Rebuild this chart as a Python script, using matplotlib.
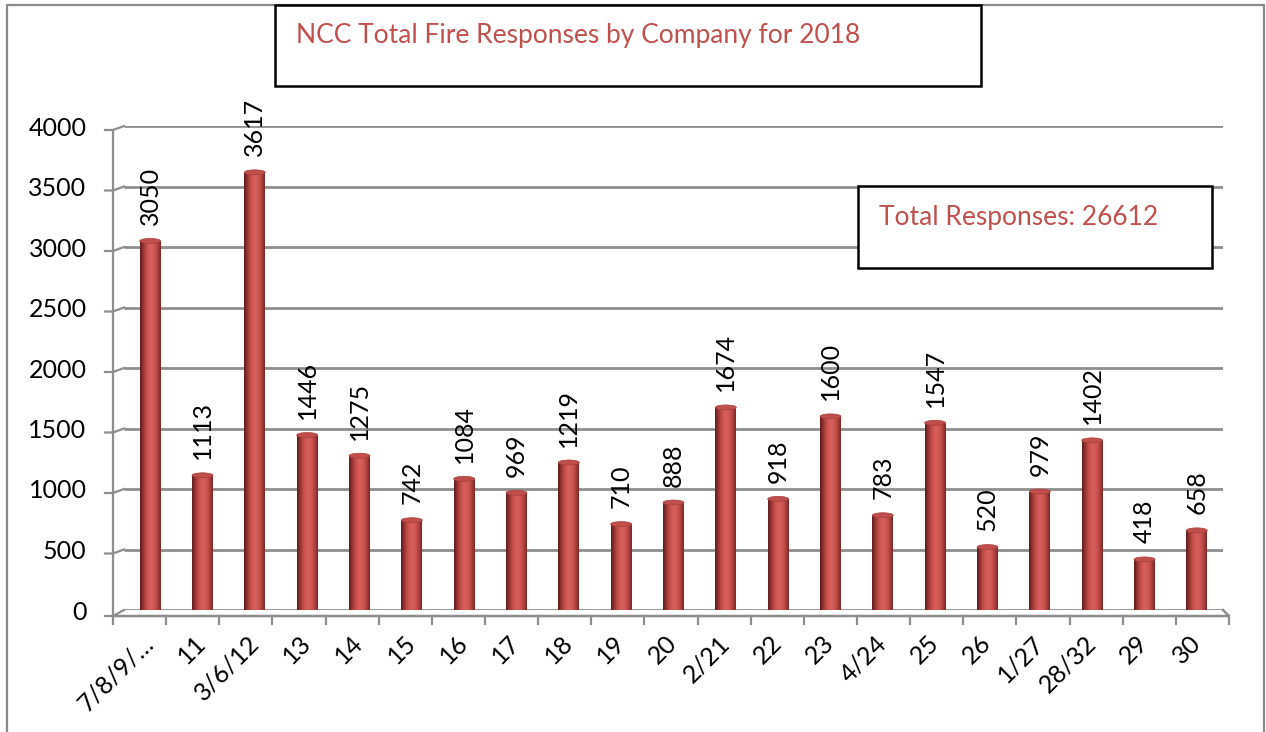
import numpy as np
import matplotlib
matplotlib.use("Agg")
import matplotlib.pyplot as plt
from matplotlib.colors import LinearSegmentedColormap
from matplotlib.patches import Ellipse, Rectangle

companies = ["7/8/9/…", "11", "3/6/12", "13", "14", "15", "16", "17", "18", "19", "20",
             "2/21", "22", "23", "4/24", "25", "26", "1/27", "28/32", "29", "30"]
responses = [3050, 1113, 3617, 1446, 1275, 742, 1084, 969, 1219, 710, 888,
             1674, 918, 1600, 783, 1547, 520, 979, 1402, 418, 658]
y_ticks = [0, 500, 1000, 1500, 2000, 2500, 3000, 3500, 4000]

plt.rcParams['font.family'] = ['Lato', 'DejaVu Sans']

W, H = 1266, 732
fig = plt.figure(figsize=(W / 100, H / 100), dpi=100)

# plot area in pixels: back wall from x=124..1223, value 0 at y=610, 4000 at y=126
left_px, right_px, zero_px, top_px = 124, 1223, 610, 126
ax = fig.add_axes([left_px / W, (H - zero_px) / H,
                   (right_px - left_px) / W, (zero_px - top_px) / H])
n = len(companies)
for s in ax.spines.values():
    s.set_visible(False)

sx = (right_px - left_px) / n      # px per category
sy = (zero_px - top_px) / 4000.0   # px per unit

grid_c = '#8e8e8e'
# back wall gridlines
ax.hlines(y_ticks, -0.5, n - 0.5, color=grid_c, lw=2.0, zorder=1)
# front edge of the value axis and its depth ticks
xf = -0.5 - 11 / sx
dy = 4 / sy
ax.plot([xf, xf], [-dy * 1.5, 4000 - dy], color=grid_c, lw=1.6, clip_on=False, zorder=1)
for v in y_ticks:
    off = dy * (1.5 if v == 0 else 1)
    ax.plot([xf - 8 / sx, xf, -0.5], [v - off, v - off, v], color=grid_c, lw=1.6,
            clip_on=False, zorder=1)
# floor front edge with category ticks
x_end = n - 0.5 + 6 / sx
ax.plot([xf, x_end, n - 0.5], [-dy * 1.5, -dy * 1.5, 0], color=grid_c, lw=1.8,
        clip_on=False, zorder=1)
for xt in np.linspace(xf, x_end, n + 1):
    ax.plot([xt, xt], [-dy * 1.5, -dy * 1.5 - 8 / sy], color=grid_c, lw=1.6,
            clip_on=False, zorder=1)

# cylinder shading
cyl = LinearSegmentedColormap.from_list(
    'cyl', ['#5e1e1c', '#9c3734', '#c8504c', '#d8615d', '#d05a56', '#b54441', '#7d2a28'])
grad = np.linspace(0, 1, 64).reshape(1, -1)

bw = 0.40
cap_h = 5 / sy
bars = ax.bar(range(n), responses, width=bw, color='#c0504d', zorder=2)
for i, v in enumerate(responses):
    im = ax.imshow(grad, cmap=cyl, aspect='auto', zorder=3,
                   extent=(i - bw / 2, i + bw / 2, -cap_h / 2, v))
    im.set_clip_path(Rectangle((i - bw / 2, 0), bw, v, transform=ax.transData))
    im2 = ax.imshow(grad, cmap=cyl, aspect='auto', zorder=3,
                    extent=(i - bw / 2, i + bw / 2, -cap_h / 2, cap_h / 2))
    im2.set_clip_path(Ellipse((i, 0), bw, cap_h, transform=ax.transData))
    ax.add_patch(Ellipse((i, v), bw, cap_h, facecolor='#c04e4b', edgecolor='#a8403d',
                         lw=0.5, zorder=4))
    ax.text(i, v + 16 / sy, str(v), rotation=90, ha='center', va='bottom',
            fontsize=18, color='black', zorder=5)
ax.set_xlim(-0.5, n - 0.5)
ax.set_ylim(0, 4000)

ax.set_yticks(y_ticks)
ax.set_yticklabels([str(t) for t in y_ticks], fontsize=18)
ax.tick_params(axis='y', length=0, pad=27)
ax.set_xticks(range(n))
ax.set_xticklabels(companies, fontsize=18, rotation=45, ha='right', va='center',
                   rotation_mode='anchor')
ax.tick_params(axis='x', length=0, pad=21)

# overlay in figure pixels for the frame and text boxes
ov = fig.add_axes([0, 0, 1, 1], zorder=-1)
ov.set_xlim(0, W)
ov.set_ylim(H, 0)
ov.axis('off')
ov.plot([7, 7, 1264, 1264], [H, 5, 5, H], color='#8a8a8a', lw=1.6)

top = fig.add_axes([0, 0, 1, 1], zorder=10)
top.set_xlim(0, W)
top.set_ylim(H, 0)
top.axis('off')
top.patch.set_alpha(0)
top.add_patch(Rectangle((275, 5), 706, 81, facecolor='white', edgecolor='black', lw=1.8))
top.text(296, 36, "NCC Total Fire Responses by Company for 2018", fontsize=19,
         color='#c0504d', va='center', ha='left')
top.add_patch(Rectangle((858, 186), 354, 82, facecolor='white', edgecolor='black', lw=1.8))
top.text(879, 217, f"Total Responses: {sum(responses)}", fontsize=19,
         color='#c0504d', va='center', ha='left')

fig.savefig('out.png', dpi=100)
